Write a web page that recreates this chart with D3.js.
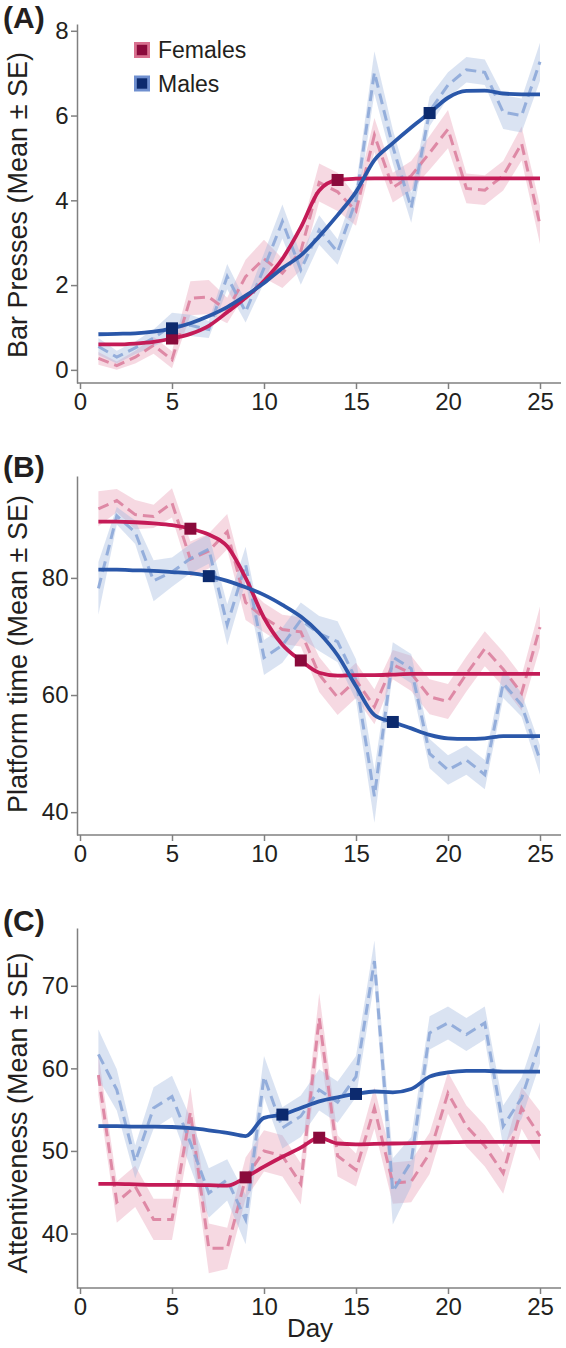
<!DOCTYPE html>
<html>
<head>
<meta charset="utf-8">
<script src="https://cdn.jsdelivr.net/npm/d3@7/dist/d3.min.js"></script>
<style>
body { margin: 0; background: #fff; }
svg { display: block; font-family: "Liberation Sans", Arial, sans-serif; }
.axis path, .axis line { stroke: #808080; stroke-width: 1.5; }
.axis text { font-size: 24px; fill: #231f20; font-family: "Liberation Sans", Arial, sans-serif; }
</style>
</head>
<body>
<script>
// days of training
var days = [1,2,3,4,5,6,7,8,9,10,11,12,13,14,15,16,17,18,19,20,21,22,23,24,25];
var xTicks = [0,5,10,15,20,25];
var groupNames = ["Females", "Males"];

// (A) bar presses
var pressF_mean = [0.27,0.1,0.3,0.58,0.24,1.69,1.72,1.4,2.2,2.62,2.28,2.8,4.42,4.2,3.75,5.54,4.3,4.58,5.12,5.68,4.28,4.24,4.58,5.34,3.42];
var pressF_se   = [0.15,0.1,0.15,0.2,0.2,0.4,0.4,0.3,0.4,0.45,0.35,0.45,0.45,0.45,0.35,0.4,0.35,0.35,0.4,0.45,0.35,0.35,0.35,0.4,0.45];
var pressF_fit  = [0.6,0.6,0.62,0.66,0.74,0.85,1.04,1.36,1.7,2.1,2.62,3.36,4.23,4.48,4.51,4.52,4.52,4.52,4.52,4.52,4.52,4.52,4.52,4.52,4.52];
var pressM_mean = [0.55,0.3,0.52,0.75,1.05,1.05,0.95,2.2,1.37,2.4,3.5,2.36,3.3,2.78,4.0,7.02,5.27,3.82,6.1,6.72,7.08,7.02,6.08,6.0,7.27];
var pressM_se   = [0.2,0.15,0.15,0.2,0.3,0.25,0.2,0.3,0.25,0.35,0.4,0.35,0.35,0.3,0.35,0.5,0.4,0.35,0.35,0.3,0.3,0.3,0.4,0.4,0.45];
var pressM_fit  = [0.84,0.85,0.86,0.9,0.98,1.1,1.27,1.48,1.75,2.05,2.4,2.7,3.15,3.65,4.2,4.95,5.35,5.72,6.06,6.42,6.58,6.59,6.52,6.5,6.5];
var pressF_knots = [5,14];
var pressM_knots = [5,19];

// (B) platform time
var platF_mean = [91.8,93.2,90.8,90.5,92.8,83.2,84.6,87.9,75.8,73.2,71.2,70.8,63.5,59.6,62.5,58.0,65.2,63.7,59.7,58.9,63.6,67.9,64.4,60.3,71.6];
var platF_se   = [3,2,2.5,2,2.5,3,3,3,3,2.5,2.5,2.5,3,3,3,3,2.5,3,3,3,3,3,3,3,3.5];
var platF_fit  = [89.6,89.6,89.5,89.3,89.0,88.4,87.4,85.4,80.0,73.2,68.6,65.9,63.8,63.3,63.4,63.4,63.5,63.6,63.6,63.6,63.6,63.6,63.6,63.6,63.6];
var platM_mean = [78.2,90.6,87.8,79.5,81.0,83.3,84.9,72.0,82.3,66.4,68.5,72.8,70.5,69.1,62.6,42.7,66.5,64.5,50.0,47.2,48.9,46.4,62.0,58.3,48.9];
var platM_se   = [4.5,1.5,2,3.5,2.5,2.5,2.5,3.5,3,3,3,3,3,3.5,3.5,4.5,2.5,2.5,2.5,2.5,2.5,2.5,2.5,2,2.5];
var platM_fit  = [81.4,81.4,81.3,81.2,81.0,80.8,80.3,79.5,78.4,77.1,75.4,73.4,70.6,66.8,61.5,56.6,55.4,54.3,53.2,52.6,52.5,52.6,53.0,53.0,53.0];
var platF_knots = [6,12];
var platM_knots = [7,17];

// (C) attentiveness
var attF_mean = [59.2,43.8,45.7,41.7,41.7,54.7,38.2,38.2,46.7,50.0,49.4,46.0,66.1,49.4,47.7,55.2,46.1,46.3,49.7,57.0,53.0,50.6,47.3,55.2,51.8];
var attF_se   = [2.5,2.5,2.5,2.5,2.5,3,3,2.5,2.5,2.5,2.5,2.5,3,2.5,2,2.5,2.5,2.5,2.5,2.5,2.5,2.5,2.5,2.5,3];
var attF_fit  = [46.0,46.0,45.95,45.9,45.9,45.9,45.85,45.8,46.8,48.1,49.3,50.4,51.6,50.9,50.8,50.85,50.9,50.95,51.0,51.05,51.1,51.1,51.1,51.1,51.1];
var attM_mean = [61.7,57.4,48.7,55.2,56.6,51.0,44.9,46.5,41.7,59.0,52.8,54.2,57.4,55.9,59.0,73.0,45.1,48.7,64.3,65.5,64.1,65.5,53.0,56.4,63.1];
var attM_se   = [3,2.5,2,2.5,2.5,3,3,2.5,3,2.5,2.5,2.5,2.5,2.5,2.5,2.5,4,3,2,2,2,2,2.5,2.5,2.5];
var attM_fit  = [53.0,53.0,52.95,52.95,52.9,52.75,52.5,52.2,51.8,54.0,54.4,55.2,56.0,56.5,56.9,57.2,57.1,57.5,59.0,59.5,59.7,59.7,59.6,59.6,59.6];
var attF_knots = [9,13];
var attM_knots = [11,15];

var width = 566,
    height = 1348;

var colors = {
    F: {band: "#e79ab2", dash: "#db7f9f", fit: "#c41b57", mark: "#8a0a3b", key: "#d8708f"},
    M: {band: "#9fb5de", dash: "#8ca7d8", fit: "#2a57a9", mark: "#0c2a6e", key: "#6f8fcf"}
};

var x = d3.scaleLinear().domain([0, 25]).range([80, 540]);

var svg = d3.select("body").append("svg")
    .attr("width", width)
    .attr("height", height);

var panels = [
    {letter: "(A)", title: "Bar Presses (Mean \u00b1 SE)", yDomain: [-0.31, 8.16], yTicks: [0,2,4,6,8],
     top: 24, bottom: 383, letterY: 28, titleY: 205,
     F: {mean: pressF_mean, se: pressF_se, fit: pressF_fit, knots: pressF_knots},
     M: {mean: pressM_mean, se: pressM_se, fit: pressM_fit, knots: pressM_knots}},
    {letter: "(B)", title: "Platform time (Mean \u00b1 SE)", yDomain: [36.1, 97.4], yTicks: [40,60,80],
     top: 476, bottom: 835, letterY: 477, titleY: 654,
     F: {mean: platF_mean, se: platF_se, fit: platF_fit, knots: platF_knots},
     M: {mean: platM_mean, se: platM_se, fit: platM_fit, knots: platM_knots}},
    {letter: "(C)", title: "Attentiveness (Mean \u00b1 SE)", yDomain: [33.4, 77.0], yTicks: [40,50,60,70],
     top: 928, bottom: 1288, letterY: 931, titleY: 1113,
     F: {mean: attF_mean, se: attF_se, fit: attF_fit, knots: attF_knots},
     M: {mean: attM_mean, se: attM_se, fit: attM_fit, knots: attM_knots}}
];

panels.forEach(drawPanel);

function drawPanel(p, pi) {
    var y = d3.scaleLinear().domain(p.yDomain).range([p.bottom, p.top]);
    var g = svg.append("g");

    var band = d3.area()
        .x(function(d, i) { return x(days[i]); })
        .y0(function(d) { return y(d.m - d.s); })
        .y1(function(d) { return y(d.m + d.s); });
    var dashed = d3.line()
        .x(function(d, i) { return x(days[i]); })
        .y(function(d) { return y(d); });
    var fitLine = d3.line()
        .x(function(d, i) { return x(days[i]); })
        .y(function(d) { return y(d); })
        .curve(d3.curveMonotoneX);

    ["F", "M"].forEach(function(k) {
        var s = p[k];
        var pts = s.mean.map(function(m, i) { return {m: m, s: s.se[i]}; });
        g.append("path")
            .attr("d", band(pts))
            .attr("fill", colors[k].band)
            .attr("fill-opacity", 0.38);
    });
    ["F", "M"].forEach(function(k) {
        g.append("path")
            .attr("d", dashed(p[k].mean))
            .attr("fill", "none")
            .attr("stroke", colors[k].dash)
            .attr("stroke-width", 3)
            .attr("stroke-dasharray", "11,6")
            .attr("stroke-opacity", 0.9);
    });
    ["F", "M"].forEach(function(k) {
        g.append("path")
            .attr("d", fitLine(p[k].fit))
            .attr("fill", "none")
            .attr("stroke", colors[k].fit)
            .attr("stroke-width", 3.8)
            .attr("stroke-linejoin", "round");
    });
    ["F", "M"].forEach(function(k) {
        g.selectAll(".knot" + k)
            .data(p[k].knots)
            .enter().append("rect")
            .attr("x", function(d) { return x(d) - 6; })
            .attr("y", function(d) { return y(p[k].fit[d - 1]) - 6; })
            .attr("width", 12)
            .attr("height", 12)
            .attr("fill", colors[k].mark);
    });

    // axes
    g.append("g")
        .attr("class", "axis")
        .attr("transform", "translate(77,0)")
        .call(d3.axisLeft(y).tickValues(p.yTicks).tickSize(6).tickSizeOuter(0).tickPadding(2.5));
    var xa = g.append("g")
        .attr("class", "axis")
        .attr("transform", "translate(0," + p.bottom + ")")
        .call(d3.axisBottom(x).tickValues(xTicks).tickSize(6).tickPadding(4));
    xa.select(".domain").remove();
    xa.append("line")
        .attr("x1", 77).attr("x2", 561)
        .attr("y1", 0).attr("y2", 0);

    g.append("text")
        .attr("x", 3)
        .attr("y", p.letterY)
        .attr("font-size", 30)
        .attr("font-weight", "bold")
        .attr("fill", "#231f20")
        .text(p.letter);

    g.append("text")
        .attr("transform", "translate(27," + p.titleY + ") rotate(-90)")
        .attr("text-anchor", "middle")
        .attr("font-size", 27)
        .attr("fill", "#231f20")
        .text(p.title);

    if (pi === 2) {
        g.append("text")
            .attr("x", x(12.5))
            .attr("y", 1337)
            .attr("text-anchor", "middle")
            .attr("font-size", 26)
            .attr("fill", "#231f20")
            .text("Day");
    }
}

// legend
var legend = svg.append("g");
groupNames.forEach(function(name, i) {
    var k = i === 0 ? "F" : "M";
    var ly = 42 + i * 33.5;
    legend.append("rect")
        .attr("x", 134).attr("y", ly)
        .attr("width", 16).attr("height", 16)
        .attr("fill", colors[k].key);
    legend.append("rect")
        .attr("x", 136.8).attr("y", ly + 2.8)
        .attr("width", 10.4).attr("height", 10.4)
        .attr("fill", colors[k].mark);
    legend.append("text")
        .attr("x", 158)
        .attr("y", ly + 16)
        .attr("font-size", 23)
        .attr("fill", "#231f20")
        .text(name);
});
</script>
</body>
</html>
